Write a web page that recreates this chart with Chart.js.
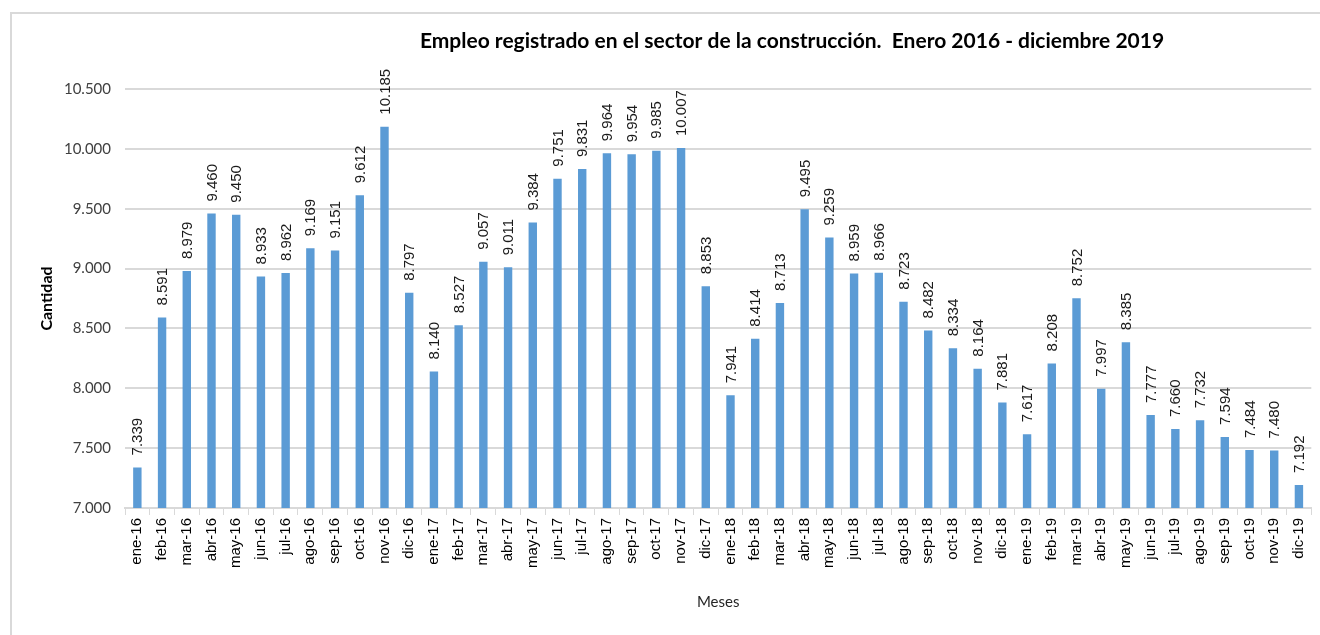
<!DOCTYPE html>
<html>
<head>
<meta charset="utf-8">
<script src="https://cdn.jsdelivr.net/npm/chart.js@4.4.1/dist/chart.umd.min.js"></script>
<style>
  body { margin: 0; background: #fff; }
  #frame {
    position: absolute; left: 10px; top: 12px;
    width: 1320px; height: 640px;
    border-left: 2px solid #d9d9d9; border-top: 2px solid #d9d9d9;
  }
  #wrap { position: relative; width: 1308px; height: 623px; }
</style>
</head>
<body>
<div id="frame"><div id="wrap"><canvas id="chart"></canvas></div></div>
<script>
// Empleo registrado en el sector de la construcción, ene-2016 a dic-2019
var meses = ['ene', 'feb', 'mar', 'abr', 'may', 'jun', 'jul', 'ago', 'sep', 'oct', 'nov', 'dic'];
var anios = ['16', '17', '18', '19'];
var labels = [];
anios.forEach(function(a) { meses.forEach(function(m) { labels.push(m + '-' + a); }); });

var empleo2016 = [7339, 8591, 8979, 9460, 9450, 8933, 8962, 9169, 9151, 9612, 10185, 8797];
var empleo2017 = [8140, 8527, 9057, 9011, 9384, 9751, 9831, 9964, 9954, 9985, 10007, 8853];
var empleo2018 = [7941, 8414, 8713, 9495, 9259, 8959, 8966, 8723, 8482, 8334, 8164, 7881];
var empleo2019 = [7617, 8208, 8752, 7997, 8385, 7777, 7660, 7732, 7594, 7484, 7480, 7192];
var valores = empleo2016.concat(empleo2017, empleo2018, empleo2019);

var yMin = 7000, yMax = 10500, yStep = 500;

function fmt(v) {
    // separador de miles con punto
    return String(v).replace(/\B(?=(\d{3})+(?!\d))/g, '.');
}

// etiquetas de datos giradas sobre cada barra
var etiquetasPlugin = {
    id: 'etiquetas',
    afterDatasetsDraw: function(chart) {
        var ctx = chart.ctx;
        var meta = chart.getDatasetMeta(0);
        ctx.save();
        ctx.font = '15px "Liberation Sans", Arial, sans-serif';
        ctx.fillStyle = '#1a1a1a';
        ctx.textAlign = 'left';
        ctx.textBaseline = 'middle';
        meta.data.forEach(function(bar, i) {
            ctx.save();
            ctx.translate(bar.x + 1, bar.y - 12);
            ctx.rotate(-Math.PI / 2);
            ctx.fillText(fmt(valores[i]), 0, 0);
            ctx.restore();
        });
        ctx.restore();
    }
};

var tituloPlugin = {
    id: 'titulo',
    afterDraw: function(chart) {
        var ctx = chart.ctx;
        ctx.save();
        ctx.font = 'bold 21px Lato, "Open Sans", sans-serif';
        ctx.fillStyle = '#000';
        ctx.textAlign = 'center';
        ctx.textBaseline = 'middle';
        ctx.fillText('Empleo registrado en el sector de la construcción.  Enero 2016 - diciembre 2019', 780, 27);
        ctx.restore();
    }
};

var ctx = document.getElementById('chart');
new Chart(ctx, {
    type: 'bar',
    data: {
        labels: labels,
        datasets: [{
            label: 'Cantidad',
            data: valores,
            backgroundColor: '#5b9bd5',
            borderWidth: 0,
            barPercentage: 0.34,
            categoryPercentage: 1
        }]
    },
    options: {
        responsive: true,
        maintainAspectRatio: false,
        animation: false,
        layout: { padding: { top: 75, right: 7, left: 0, bottom: 0 } },
        plugins: {
            legend: { display: false },
            tooltip: { enabled: false }
        },
        scales: {
            x: {
                offset: true,
                grid: { offset: true, drawOnChartArea: false, tickLength: 7, color: '#d9d9d9' },
                border: { color: '#d9d9d9', width: 2 },
                ticks: {
                    minRotation: 90, maxRotation: 90, autoSkip: false,
                    color: '#000', padding: 3,
                    font: { family: '"Liberation Sans", Arial, sans-serif', size: 15 }
                },
                title: {
                    display: true, text: 'Meses', color: '#262626',
                    font: { family: 'Lato, sans-serif', size: 15 },
                    padding: { top: 4, bottom: 26 }
                },
                afterFit: function(scale) { scale.height = 129; }
            },
            y: {
                min: yMin, max: yMax,
                ticks: {
                    stepSize: yStep, color: '#404040', padding: 14,
                    font: { family: 'Lato, sans-serif', size: 15 },
                    callback: function(v) { return fmt(v); }
                },
                grid: { color: '#d9d9d9', lineWidth: 2, drawTicks: false },
                border: { display: false },
                title: {
                    display: true, text: 'Cantidad', color: '#000',
                    font: { family: 'Lato, sans-serif', size: 16, weight: 'bold' },
                    padding: { top: 25, bottom: 0 }
                },
                afterFit: function(scale) { scale.width = 113; }
            }
        }
    },
    plugins: [etiquetasPlugin, tituloPlugin]
});
</script>
</body>
</html>
